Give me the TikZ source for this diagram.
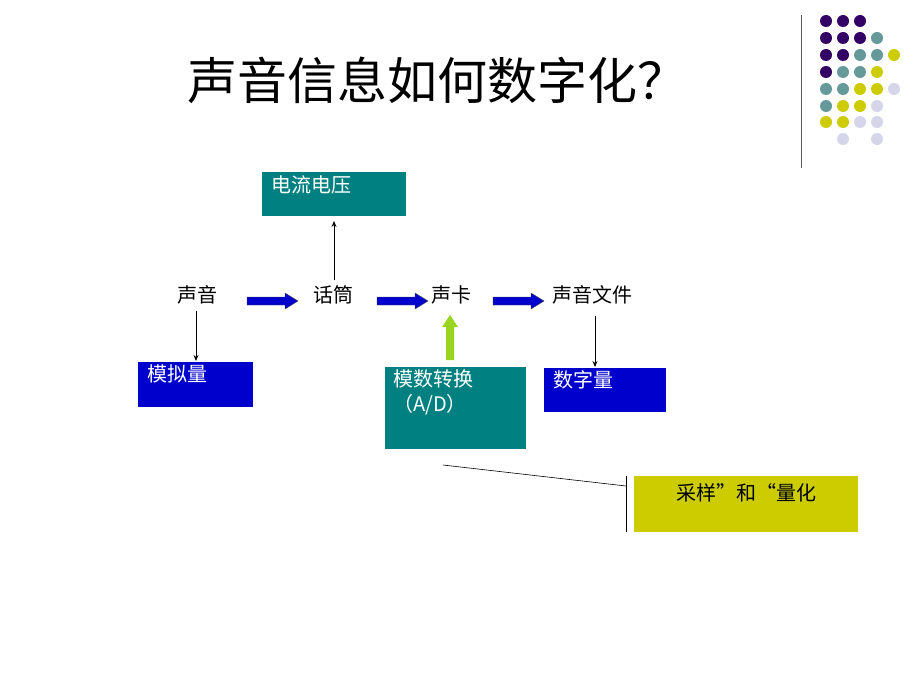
\documentclass[tikz,border=0pt]{standalone}
\usepackage{fontspec}
\setmainfont{Noto Sans CJK SC}
\usetikzlibrary{arrows.meta}
\definecolor{tealc}{RGB}{0,128,128}
\definecolor{bluec}{RGB}{0,0,204}
\definecolor{yelc}{RGB}{204,204,0}
\definecolor{pur}{RGB}{51,0,102}
\definecolor{tl}{RGB}{102,153,153}
\definecolor{yl}{RGB}{204,204,0}
\definecolor{lav}{RGB}{214,214,234}
\begin{document}
\begin{tikzpicture}[x=1pt,y=-1pt,
  box/.style={draw=none,inner sep=0pt,anchor=north west},
  lbl/.style={font=\fontsize{20}{25}\selectfont},
  blk/.style={draw=black!70,fill=bluec,line width=0.4pt},
  thin/.style={-{Stealth[length=6pt,width=5pt]},line width=0.9pt}]
\useasboundingbox (0,0) rectangle (920,690);
\node (title) at (437,80) {\fontsize{50}{58}\selectfont 声音信息如何数字化？};
\draw[gray!70!black,line width=1pt] (801,15) -- (801,168);
\foreach \x/\y/\c in {826/21/pur,843/21/pur,860/21/pur,
 826/38/pur,843/38/pur,860/38/pur,877/38/tl,
 826/55/pur,843/55/pur,860/55/tl,877/55/tl,894/55/yl,
 826/72/pur,843/72/tl,860/72/tl,877/72/yl,
 826/89/tl,843/89/tl,860/89/yl,877/89/yl,894/89/lav,
 826/106/tl,843/106/yl,860/106/yl,877/106/lav,
 826/122/yl,843/122/yl,860/122/lav,877/122/lav,
 843/139/lav,877/139/lav}
 \fill[\c] (\x,\y) circle (6);
% boxes
\fill[tealc] (262,172) rectangle (406,216);
\node[box,text=white,lbl] (dl) at (271,175) {电流电压};
\fill[bluec] (138,362) rectangle (253,407);
\node[box,text=white,lbl] (mn) at (147,364) {模拟量};
\fill[tealc] (385,367) rectangle (526,449);
\node[box,text=white,lbl,align=left] (ad) at (393,369) {模数转换\\（A/D）};
\fill[bluec] (544,368) rectangle (666,412);
\node[box,text=white,lbl] (sz) at (553,370) {数字量};
\fill[yelc] (634,476) rectangle (858,532);
\node[lbl] (cy) at (746,493) {采样”和“量化};
% labels
\node[lbl] (sy) at (197,295) {声音};
\node[lbl] (ht) at (333,295) {话筒};
\node[lbl] (sk) at (451,295) {声卡};
\node[lbl] (wj) at (592,295) {声音文件};
\coordinate (a1) at (196,311); \coordinate (a1e) at (196,361);
\draw[thin] (a1) -- (a1e);
\coordinate (a2) at (334,280); \coordinate (a2e) at (334,221);
\draw[thin] (a2) -- (a2e);
\coordinate (a3) at (595,316); \coordinate (a3e) at (595,367);
\draw[thin] (a3) -- (a3e);
\foreach \s in {247,377,493}
  \draw[blk] (\s,297) -- ++(38,0) -- ++(0,-4) -- ++(13,8) -- ++(-13,8) -- ++(0,-4) -- ++(-38,0) -- cycle;
\fill[yellow!60!green] (446,360) -- (446,327) -- (442,327) -- (450,315) -- (458,327) -- (454,327) -- (454,360) -- cycle;
% callout
\coordinate (c0) at (443,465); \coordinate (c1) at (626,486);
\draw[line width=0.6pt] (c0) -- (c1);
\draw[line width=0.8pt] (626,476) -- (626,532);
\end{tikzpicture}
\end{document}
